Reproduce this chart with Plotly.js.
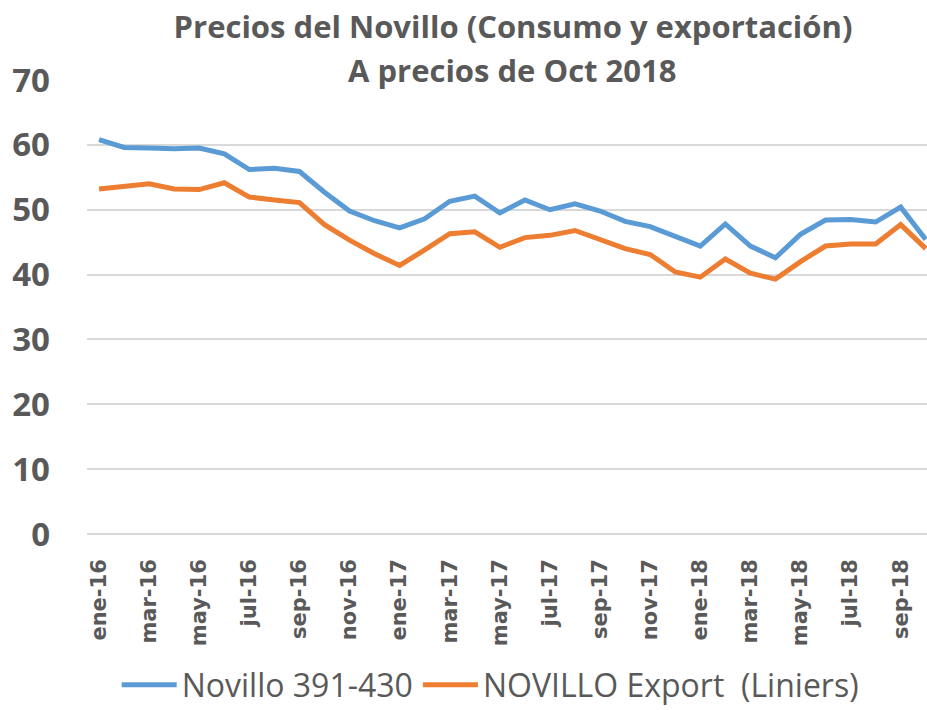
<!DOCTYPE html>
<html>
<head>
<meta charset="utf-8">
<script src="https://cdn.plot.ly/plotly-3.0.1.min.js"></script>
<style>html,body{margin:0;padding:0;background:#fff;}#chart{width:927px;height:710px;}</style>
</head>
<body>
<div id="chart"></div>
<script>
const months = ["ene-16","feb-16","mar-16","abr-16","may-16","jun-16","jul-16","ago-16","sep-16","oct-16","nov-16","dic-16",
  "ene-17","feb-17","mar-17","abr-17","may-17","jun-17","jul-17","ago-17","sep-17","oct-17","nov-17","dic-17",
  "ene-18","feb-18","mar-18","abr-18","may-18","jun-18","jul-18","ago-18","sep-18","oct-18"];
const novillo391 = [60.8,59.6,59.5,59.4,59.5,58.6,56.2,56.4,55.9,52.7,49.8,48.3,
  47.2,48.6,51.3,52.1,49.5,51.5,50.0,50.9,49.8,48.2,47.4,45.8,
  44.4,47.8,44.4,42.6,46.2,48.4,48.5,48.1,50.4,45.4];
const novilloExport = [53.2,53.6,54.0,53.2,53.1,54.15,51.95,51.5,51.1,47.7,45.3,43.2,
  41.4,43.8,46.3,46.6,44.2,45.7,46.05,46.8,45.3,44.0,43.1,40.4,
  39.6,42.4,40.2,39.3,42.0,44.4,44.7,44.7,47.7,44.0];
const tickLabels = ["ene-16","mar-16","may-16","jul-16","sep-16","nov-16","ene-17","mar-17","may-17","jul-17","sep-17","nov-17","ene-18","mar-18","may-18","jul-18","sep-18"];
const yTicks = [0,10,20,30,40,50,60,70];

const gray = "#595959";
const traces = [
  {x: months, y: novillo391, type: "scatter", mode: "lines", name: "Novillo 391-430",
   line: {color: "#5b9bd5", width: 5}},
  {x: months, y: novilloExport, type: "scatter", mode: "lines", name: "NOVILLO Export  (Liniers)",
   line: {color: "#ed7d31", width: 5}}
];
const layout = {
  width: 927, height: 710,
  paper_bgcolor: "#fff", plot_bgcolor: "#fff",
  margin: {l: 87, r: 0, t: 80, b: 176, autoexpand: false},
  title: {text: "Precios del Novillo (Consumo y exportación)", font: {family: "Open Sans", size: 31, color: gray, weight: "bold"},
    xref: "container", x: 0.5534, xanchor: "center", yref: "container", y: 1 - 27 / 710, yanchor: "middle"},
  annotations: [{text: "A precios de Oct 2018", xref: "paper", yref: "paper", x: 0.507, xanchor: "center",
    y: 1.0 + (80 - 70) / 454, yanchor: "middle", showarrow: false,
    font: {family: "Open Sans", size: 31, color: gray, weight: "bold"}}],
  xaxis: {type: "category", range: [-0.48, 33.05], tickmode: "array", tickvals: tickLabels, ticktext: tickLabels,
    tickangle: -90, ticks: "", showgrid: false, showline: false, zeroline: false, automargin: false,
    ticklabelstandoff: 20,
    tickfont: {family: "DejaVu Sans", size: 21, color: gray, weight: "bold"}},
  yaxis: {range: [0, 70], tickmode: "array", tickvals: yTicks, ticks: "", showline: false, automargin: false,
    gridcolor: "#d9d9d9", gridwidth: 2, zeroline: true, zerolinecolor: "#d9d9d9", zerolinewidth: 2,
    ticklabelstandoff: 36,
    tickfont: {family: "Open Sans", size: 33, color: gray, weight: "bold"}},
  showlegend: true,
  legend: {orientation: "h", x: 0.48, xanchor: "center", y: -(685 - 534) / 454, yanchor: "middle",
    font: {family: "Open Sans", size: 32, color: gray}, itemwidth: 55, bgcolor: "rgba(0,0,0,0)"}
};
Plotly.newPlot("chart", traces, layout, {displayModeBar: false, staticPlot: true});
</script>
</body>
</html>
